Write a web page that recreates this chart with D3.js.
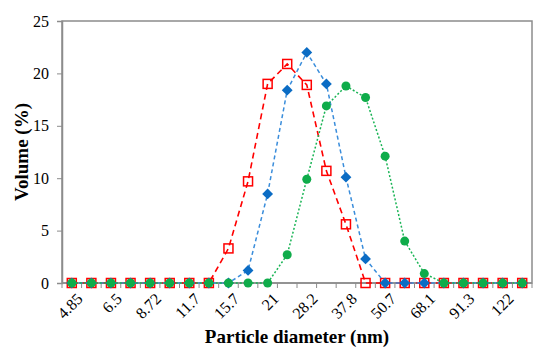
<!DOCTYPE html>
<html>
<head>
<meta charset="utf-8">
<script src="https://d3js.org/d3.v7.min.js"></script>
<style>
    body { margin: 0; background: white; }
    svg text { font-family: "Liberation Serif", "Times New Roman", serif !important; }
</style>
</head>
<body>
<script>
// particle size classes (nm), only every other one gets a label
var sizes = ["4.85","5.61","6.5","7.53","8.72","10.1","11.7","13.5","15.7","18.2","21","24.4",
             "28.2","32.7","37.8","43.8","50.7","58.8","68.1","78.8","91.3","106","122","142"];

var redVals   = [0,0,0,0,0,0,0,0,3.3,9.7,19.0,20.9,18.9,10.7,5.6,0,0,0,0,0,0,0,0,0];
var blueVals  = [0,0,0,0,0,0,0,0,0,1.2,8.5,18.4,22.0,19.0,10.1,2.3,0,0,0,0,0,0,0,0];
var greenVals = [0,0,0,0,0,0,0,0,0,0,0,2.7,9.9,16.9,18.8,17.7,12.1,4.0,0.9,0,0,0,0,0];

var yTicks = [0, 5, 10, 15, 20, 25];

var width = 550, height = 357;
var margin = {top: 21, right: 18, bottom: 74, left: 62};

var svg = d3.select("body").append("svg")
    .attr("width", width)
    .attr("height", height);

var x = d3.scaleBand()
    .domain(sizes)
    .range([margin.left, width - margin.right]);

var y = d3.scaleLinear()
    .domain([0, 25])
    .range([height - margin.bottom, margin.top]);

// plot frame
svg.append("rect")
    .attr("x", margin.left)
    .attr("y", margin.top)
    .attr("width", width - margin.right - margin.left)
    .attr("height", height - margin.bottom - margin.top)
    .attr("fill", "none")
    .attr("stroke", "#8c8c8c")
    .attr("stroke-width", 1.5);

// y axis
var yAxis = svg.append("g")
    .attr("transform", "translate(" + margin.left + ",0)")
    .call(d3.axisLeft(y).tickValues(yTicks).tickSize(5).tickPadding(8));
yAxis.attr("font-family", null);
yAxis.select(".domain").attr("stroke", "#8c8c8c").attr("stroke-width", 1.5);
yAxis.selectAll(".tick line").attr("stroke", "#8c8c8c");
yAxis.selectAll("text").attr("font-size", 16).attr("fill", "#000");

// x axis: ticks at the class boundaries, labels on every other class
var xg = svg.append("g")
    .attr("transform", "translate(0," + y(0) + ")");
xg.append("line")
    .attr("x1", margin.left).attr("x2", width - margin.right)
    .attr("stroke", "#8c8c8c").attr("stroke-width", 1.5);
xg.selectAll("line.tk")
    .data(sizes.concat(["end"]))
    .enter().append("line")
    .attr("class", "tk")
    .attr("x1", function(d, i) { return margin.left + i * x.step(); })
    .attr("x2", function(d, i) { return margin.left + i * x.step(); })
    .attr("y1", 0).attr("y2", 5)
    .attr("stroke", "#8c8c8c");
xg.selectAll("text")
    .data(sizes.filter(function(d, i) { return i % 2 == 0; }))
    .enter().append("text")
    .attr("transform", function(d) {
        return "translate(" + (x(d) + x.bandwidth() / 2 + 4) + ",9) rotate(-45)";
    })
    .attr("text-anchor", "end")
    .attr("dy", "0.7em")
    .attr("font-size", 16)
    .text(function(d) { return d; });

// axis titles
svg.append("text")
    .attr("x", (margin.left + width - margin.right) / 2)
    .attr("y", 343)
    .attr("text-anchor", "middle")
    .attr("font-size", 19)
    .attr("font-weight", "bold")
    .text("Particle diameter (nm)");

svg.append("text")
    .attr("transform", "translate(28," + ((margin.top + y(0)) / 2) + ") rotate(-90)")
    .attr("text-anchor", "middle")
    .attr("font-size", 19)
    .attr("font-weight", "bold")
    .text("Volume (%)");

var line = d3.line()
    .x(function(d, i) { return x(sizes[i]) + x.bandwidth() / 2; })
    .y(function(d) { return y(d); });

function cx(d, i) { return x(sizes[i]) + x.bandwidth() / 2; }

// red: dashed, open squares
svg.append("path")
    .datum(redVals)
    .attr("d", line)
    .attr("fill", "none")
    .attr("stroke", "#ff0000")
    .attr("stroke-width", 1.6)
    .attr("stroke-dasharray", "6,4");
svg.selectAll("rect.red")
    .data(redVals)
    .enter().append("rect")
    .attr("class", "red")
    .attr("x", function(d, i) { return cx(d, i) - 4.5; })
    .attr("y", function(d) { return y(d) - 4.5; })
    .attr("width", 9).attr("height", 9)
    .attr("fill", "none")
    .attr("stroke", "#ff0000")
    .attr("stroke-width", 1.5);

// blue: short dashes, diamonds
svg.append("path")
    .datum(blueVals)
    .attr("d", line)
    .attr("fill", "none")
    .attr("stroke", "#3a8ddb")
    .attr("stroke-width", 1.5)
    .attr("stroke-dasharray", "4,3");
svg.selectAll("path.blue")
    .data(blueVals)
    .enter().append("path")
    .attr("class", "blue")
    .attr("d", d3.symbol().type(d3.symbolDiamond2).size(75))
    .attr("transform", function(d, i) { return "translate(" + cx(d, i) + "," + y(d) + ")"; })
    .attr("fill", "#0b6cc4");

// green: dotted, circles
svg.append("path")
    .datum(greenVals)
    .attr("d", line)
    .attr("fill", "none")
    .attr("stroke", "#19b455")
    .attr("stroke-width", 1.5)
    .attr("stroke-dasharray", "2,2");
svg.selectAll("circle.green")
    .data(greenVals)
    .enter().append("circle")
    .attr("class", "green")
    .attr("cx", cx)
    .attr("cy", function(d) { return y(d); })
    .attr("r", 4.5)
    .attr("fill", "#0fac4a");
</script>
</body>
</html>
